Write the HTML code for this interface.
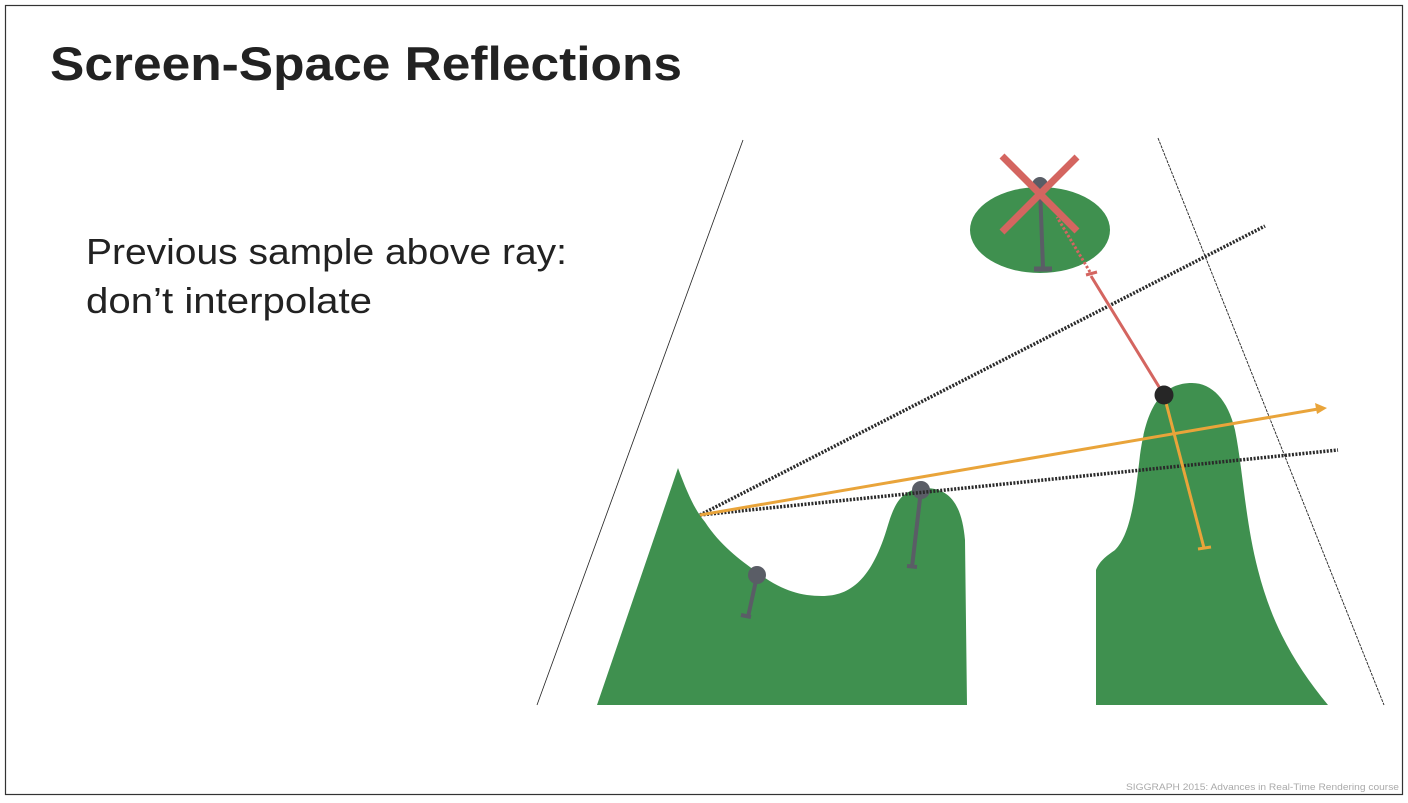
<!DOCTYPE html>
<html><head><meta charset="utf-8"><style>
html,body{margin:0;padding:0;background:#fff;}
svg{display:block;}
</style></head><body>
<svg width="1408" height="803" viewBox="0 0 1408 803" xmlns="http://www.w3.org/2000/svg">
<rect x="5.5" y="5.5" width="1397" height="789" fill="#fff" stroke="#333" stroke-width="1.2"/>
<text x="50" y="80" font-family="Liberation Sans, sans-serif" font-size="47" font-weight="bold" fill="#222" textLength="632" lengthAdjust="spacingAndGlyphs">Screen-Space Reflections</text>
<text x="86" y="264" font-family="Liberation Sans, sans-serif" font-size="36" fill="#222" textLength="481" lengthAdjust="spacingAndGlyphs">Previous sample above ray:</text>
<text x="86" y="313" font-family="Liberation Sans, sans-serif" font-size="36" fill="#222" textLength="286" lengthAdjust="spacingAndGlyphs">don’t interpolate</text>
<text x="1126" y="790" font-family="Liberation Sans, sans-serif" font-size="9.5" fill="#aaa" textLength="273" lengthAdjust="spacingAndGlyphs">SIGGRAPH 2015: Advances in Real-Time Rendering course</text>

<line x1="743" y1="140" x2="537" y2="705" stroke="#222" stroke-width="0.8"/>
<line x1="1158" y1="138" x2="1384" y2="705" stroke="#222" stroke-width="0.9" stroke-dasharray="3 1"/>

<path d="M597,705 L678,468 C688,495 695,510 705,522 C720,545 740,560 757,572 C780,590 800,596 822,596 C850,596 872,580 888,525 C896,498 905,489 925,488 C950,488 962,505 965,540 L967,705 Z" fill="#3f904f"/>
<path d="M1096,705 L1096,570 C1100,560 1108,555 1115,550 C1130,535 1135,500 1140,455 C1146,410 1160,383 1192,383 C1212,383 1228,400 1235,430 C1243,470 1245,520 1258,570 C1272,625 1295,665 1328,705 Z" fill="#3f904f"/>
<ellipse cx="1040" cy="230" rx="70" ry="43" fill="#3f904f"/>

<g stroke="#5a5d66" stroke-width="4" fill="#5a5d66">
<line x1="757" y1="576" x2="748" y2="617"/><line x1="741" y1="615" x2="751" y2="617"/>
<circle cx="757" cy="575" r="9" stroke="none"/>
<line x1="921" y1="490" x2="912" y2="567"/><line x1="907" y1="566" x2="917" y2="567"/>
<circle cx="921" cy="490" r="9" stroke="none"/>
<line x1="1040" y1="187" x2="1043" y2="268"/><line x1="1034" y1="269" x2="1052" y2="269" stroke-width="5"/>
<circle cx="1040" cy="185" r="8" stroke="none"/>
</g>

<line x1="700" y1="515" x2="1265" y2="226" stroke="#2a2a2a" stroke-width="3.5" stroke-dasharray="2 1.5"/>
<line x1="700" y1="515" x2="1338" y2="450" stroke="#2a2a2a" stroke-width="3.5" stroke-dasharray="2 1.5"/>

<line x1="700" y1="515" x2="1318" y2="409" stroke="#e9a43a" stroke-width="3"/>
<polygon points="1327,408 1315,403 1317,414" fill="#e9a43a"/>
<line x1="1164" y1="395" x2="1204" y2="548" stroke="#e9a43a" stroke-width="3"/>
<line x1="1198" y1="549" x2="1211" y2="547" stroke="#e9a43a" stroke-width="3"/>

<line x1="1164" y1="395" x2="1091" y2="276" stroke="#d46560" stroke-width="3"/>
<line x1="1086" y1="275" x2="1097" y2="272" stroke="#d46560" stroke-width="3"/>
<line x1="1090" y1="272" x2="1057" y2="217" stroke="#d46560" stroke-width="3" stroke-dasharray="2.5 2"/>
<circle cx="1164" cy="395" r="9.5" fill="#262626"/>

<g stroke="#d46560" stroke-width="7">
<line x1="1002" y1="156" x2="1077" y2="231"/>
<line x1="1077" y1="157" x2="1002" y2="232"/>
</g>
</svg>
</body></html>
